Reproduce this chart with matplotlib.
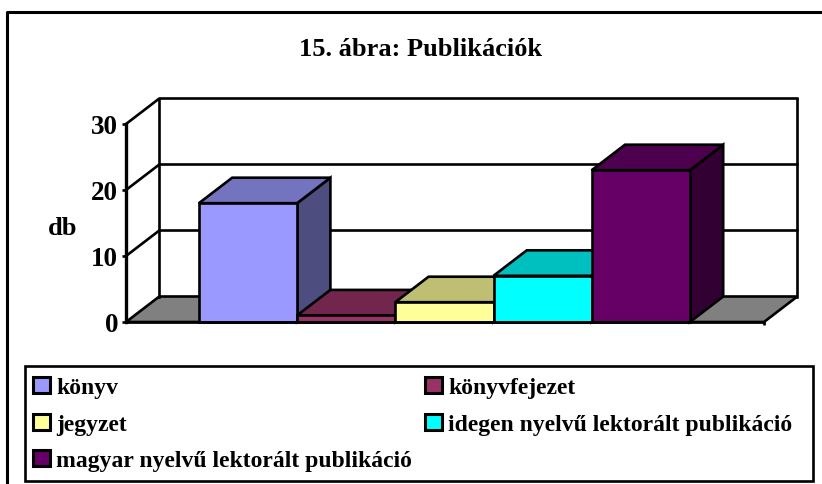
import matplotlib
matplotlib.use("Agg")
import matplotlib.pyplot as plt
from matplotlib.lines import Line2D
from matplotlib.patches import Rectangle, Polygon

categories = ["könyv", "könyvfejezet", "jegyzet",
              "idegen nyelvű lektorált publikáció",
              "magyar nyelvű lektorált publikáció"]
values = [18, 1, 3, 7, 23]
front_colors = ["#9999FF", "#993366", "#FFFF99", "#00FFFF", "#660066"]
top_colors = ["#7373BF", "#73264D", "#BFBF73", "#00BFBF", "#4D004D"]
side_colors = ["#4D4D80", "#4D1A33", "#80804D", "#008080", "#330033"]
y_ticks = [0, 10, 20, 30]
title = "15. ábra: Publikációk"
y_label = "db"

W, H = 822, 485
LW = 1.9
FONT = "Liberation Serif"

fig = plt.figure(figsize=(W / 100, H / 100), dpi=100, facecolor="white")


def fx(px):
    return px / W


def fy(py):
    return 1 - py / H


# chart frame: only left and top edges fall inside the picture
fig.add_artist(Line2D([fx(7), fx(7), fx(822)], [fy(485), fy(13), fy(13)],
                      transform=fig.transFigure, color="black", lw=LW + 0.3))

# plot axes: front plane of the 3D box
left, right, y0_px, y30_px = 126, 764, 323, 125
ax = fig.add_axes([fx(left), fy(y0_px), fx(right - left), (y0_px - y30_px) / H])
ax.patch.set_visible(False)
bar_w_px = 98.2
first_center_px = 248
xmin = (left - first_center_px) / bar_w_px
xmax = (right - first_center_px) / bar_w_px
ax.set_xlim(xmin, xmax)
ax.set_ylim(0, 30)
dx = 33.3 / bar_w_px
dy = 25.5 / ((y0_px - y30_px) / 30)

line = dict(color="black", lw=LW, clip_on=False, solid_capstyle="projecting")

# floor
ax.add_patch(Polygon([(xmin, 0), (xmin + dx, dy), (xmax + dx, dy), (xmax, 0)], closed=True,
                     fc="#808080", ec="black", lw=LW, clip_on=False, zorder=1))
# walls and gridlines
for t in y_ticks[1:]:
    ax.plot([xmin, xmin + dx, xmax + dx], [t, t + dy, t + dy], zorder=1.5, **line)
ax.plot([xmin + dx, xmin + dx], [dy, 30 + dy], zorder=1.5, **line)
ax.plot([xmax + dx, xmax + dx], [dy, 30 + dy], zorder=1.5, **line)

# bars with 3D faces, left to right
xs = list(range(len(values)))
for i, (x, v) in enumerate(zip(xs, values)):
    z = 2 + i
    x0, x1 = x - 0.5, x + 0.5
    ax.add_patch(Polygon([(x1, 0), (x1 + dx, dy), (x1 + dx, v + dy), (x1, v)], closed=True,
                         fc=side_colors[i], ec="black", lw=LW, clip_on=False, zorder=z))
    ax.add_patch(Polygon([(x0, v), (x0 + dx, v + dy), (x1 + dx, v + dy), (x1, v)], closed=True,
                         fc=top_colors[i], ec="black", lw=LW, clip_on=False, zorder=z))
    ax.bar(x, v, width=1.0, color=front_colors[i], edgecolor="black", linewidth=LW,
           clip_on=False, zorder=z + 0.5)

for s in ("top", "right"):
    ax.spines[s].set_visible(False)
for s in ("left", "bottom"):
    ax.spines[s].set_linewidth(LW)
    ax.spines[s].set_zorder(20)
ax.spines["left"].set_linewidth(2.4)
ax.set_yticks(y_ticks)
ax.set_yticklabels([str(t) for t in y_ticks], fontfamily=FONT, fontweight="bold", fontsize=19.5)
ax.tick_params(axis="y", length=3, width=LW, pad=2.5)
ax.set_xticks([xmax])
ax.set_xticklabels([""])
ax.tick_params(axis="x", length=2, width=LW)

fig.text(fx(421), fy(47), title, ha="center", va="center_baseline", fontfamily=FONT,
         fontweight="bold", fontsize=19)
fig.text(fx(63), fy(226), y_label, ha="center", va="center_baseline", fontfamily=FONT,
         fontweight="bold", fontsize=19)

# legend
fig.add_artist(Rectangle((fx(25), fy(482)), fx(788), 115 / H, transform=fig.transFigure,
                         fc="white", ec="black", lw=LW))
slots = [(33, 386), (425, 386), (33, 423), (425, 423), (33, 459)]
for name, color, (sx, sy) in zip(categories, front_colors, slots):
    fig.add_artist(Rectangle((fx(sx), fy(sy + 8)), fx(17), 16 / H, transform=fig.transFigure,
                             fc=color, ec="black", lw=LW + 0.3))
    fig.text(fx(sx + 23), fy(sy), name, ha="left", va="center_baseline", fontfamily=FONT,
             fontweight="bold", fontsize=17)

fig.savefig("out.png", dpi=100, facecolor="white")
